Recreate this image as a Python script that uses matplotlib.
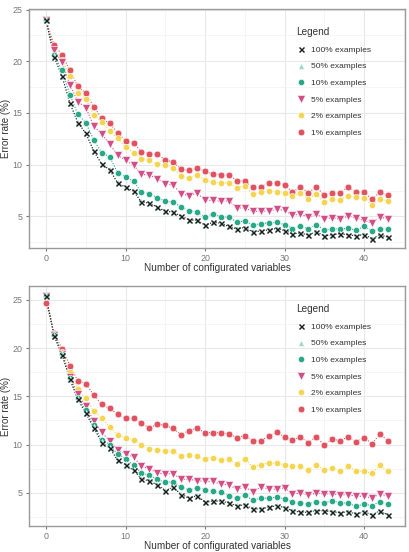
import numpy as np
import matplotlib

matplotlib.use("Agg")

import matplotlib.pyplot as plt

plt.rcParams["font.family"] = ["Liberation Sans", "DejaVu Sans"]

variables = list(range(44))
labels = ["100% examples", "50% examples", "10% examples",
          "5% examples", "2% examples", "1% examples"]

# top panel
top_100 = [23.96, 20.44, 18.56, 15.94, 14.06, 13.03, 11.31, 10.05, 9.5, 8.24,
           7.82, 7.43, 6.39, 6.29, 5.9, 5.49, 5.42, 5.0, 4.68, 4.61,
           4.16, 4.42, 4.35, 4.03, 3.8, 3.93, 3.51, 3.58, 3.7, 3.83,
           3.64, 3.32, 3.38, 3.22, 3.51, 3.12, 3.22, 3.32, 3.22, 3.12,
           3.25, 2.86, 3.19, 3.0]
top_50 = [23.96, 20.5, 18.6, 16.0, 14.1, 13.1, 11.35, 10.1, 9.55, 8.3,
          7.85, 7.5, 6.45, 6.3, 5.95, 5.55, 5.45, 5.05, 4.7, 4.65,
          4.2, 4.45, 4.4, 4.05, 3.85, 3.95, 3.55, 3.6, 3.75, 3.85,
          3.7, 3.35, 3.4, 3.25, 3.55, 3.15, 3.25, 3.35, 3.25, 3.15,
          3.3, 2.9, 3.2, 3.05]
top_10 = [23.96, 20.63, 19.11, 16.75, 14.87, 14.06, 12.38, 11.18, 10.76, 9.24,
          8.82, 8.4, 7.33, 7.2, 6.81, 6.49, 6.39, 5.9, 5.55, 5.45,
          4.94, 5.26, 4.97, 4.9, 4.48, 4.55, 4.19, 4.29, 4.39, 4.42,
          4.22, 3.83, 4.06, 3.83, 4.19, 3.7, 3.83, 3.77, 3.87, 3.67,
          4.06, 3.58, 3.83, 3.77]
top_5 = [23.96, 21.12, 19.92, 17.72, 16.1, 15.52, 13.74, 12.96, 11.99, 10.92,
         10.44, 9.95, 9.08, 8.98, 8.66, 8.17, 8.01, 7.2, 7.01, 7.27,
         6.55, 6.55, 6.46, 6.52, 5.84, 5.81, 5.49, 5.52, 5.52, 5.68,
         5.61, 5.1, 5.26, 4.9, 5.23, 4.77, 4.87, 4.74, 5.03, 4.87,
         4.61, 4.35, 4.97, 4.74]
top_2 = [23.96, 21.18, 20.15, 18.59, 16.97, 16.33, 14.81, 14.16, 13.28, 12.54,
         11.73, 11.15, 10.6, 10.44, 10.11, 9.95, 9.69, 8.92, 8.72, 9.05,
         8.5, 8.3, 8.24, 8.24, 7.78, 7.98, 7.14, 7.33, 7.43, 7.4,
         7.3, 6.94, 7.27, 6.68, 7.17, 6.36, 6.65, 6.62, 7.01, 6.84,
         6.75, 6.1, 6.72, 6.49]
top_1 = [23.96, 21.6, 20.63, 19.11, 17.56, 16.91, 15.61, 14.48, 14.0, 13.09,
         12.31, 12.12, 11.25, 11.08, 11.02, 10.44, 10.27, 9.56, 9.47, 9.66,
         9.37, 9.11, 9.05, 9.01, 8.46, 8.4, 7.85, 7.88, 8.24, 8.24,
         8.07, 7.36, 7.85, 7.3, 7.85, 7.07, 7.3, 7.27, 7.85, 7.36,
         7.36, 6.65, 7.36, 7.07]

# bottom panel
bot_100 = [25.35, 21.28, 19.31, 16.77, 14.69, 13.23, 11.74, 10.21, 9.65, 8.37,
           7.92, 7.33, 6.46, 6.22, 5.83, 5.24, 5.56, 4.83, 4.44, 4.72,
           4.03, 4.13, 4.13, 3.96, 3.65, 3.75, 3.33, 3.33, 3.51, 3.68,
           3.47, 3.16, 2.99, 2.99, 3.16, 3.13, 3.06, 2.92, 3.06, 2.78,
           3.06, 2.71, 3.13, 2.71]
bot_50 = [25.35, 21.3, 19.35, 16.8, 14.7, 13.3, 11.8, 10.3, 9.7, 8.45,
          8.0, 7.4, 6.55, 6.3, 5.9, 5.3, 5.6, 4.9, 4.5, 4.8,
          4.1, 4.2, 4.2, 4.0, 3.7, 3.8, 3.4, 3.4, 3.55, 3.7,
          3.5, 3.2, 3.05, 3.05, 3.2, 3.15, 3.1, 2.95, 3.1, 2.85,
          3.1, 2.75, 3.15, 2.75]
bot_10 = [25.35, 21.39, 19.38, 16.88, 14.79, 13.58, 12.01, 10.52, 10.0, 8.99,
          8.54, 7.85, 7.08, 6.81, 6.39, 6.11, 6.15, 5.59, 5.31, 5.52,
          5.35, 5.17, 5.07, 4.72, 4.44, 4.79, 4.24, 4.48, 4.44, 4.58,
          4.38, 4.03, 3.92, 3.89, 4.06, 3.99, 4.17, 3.99, 3.92, 3.61,
          3.85, 3.68, 4.1, 3.82]
bot_5 = [25.35, 21.39, 19.41, 17.05, 15.21, 13.99, 12.43, 11.32, 10.35, 9.41,
         9.06, 8.72, 7.74, 7.5, 7.05, 6.98, 6.98, 6.42, 6.39, 6.28,
         6.18, 6.18, 5.9, 5.83, 5.38, 5.59, 5.14, 5.59, 5.42, 5.38,
         5.52, 4.9, 4.97, 4.79, 4.97, 4.9, 4.9, 4.79, 4.83, 4.65,
         4.65, 4.48, 4.9, 4.65]
bot_2 = [25.35, 21.45, 19.58, 17.5, 15.73, 14.79, 13.47, 12.78, 11.84, 10.97,
         10.69, 10.52, 9.93, 9.58, 9.44, 9.34, 9.34, 8.82, 8.89, 8.82,
         8.54, 8.65, 8.37, 8.47, 8.02, 8.54, 7.67, 7.92, 8.09, 8.06,
         7.92, 7.74, 7.74, 7.4, 7.92, 7.33, 7.6, 7.26, 7.74, 7.26,
         7.22, 7.05, 7.85, 7.22]
bot_1 = [24.72, 21.56, 19.93, 18.19, 16.6, 16.32, 15.14, 14.17, 13.75, 13.13,
         12.71, 12.71, 12.19, 11.74, 12.12, 11.98, 11.67, 11.04, 11.46, 11.67,
         11.25, 11.25, 11.22, 11.15, 10.73, 10.94, 10.42, 10.42, 10.87, 11.28,
         10.8, 10.45, 10.8, 10.21, 10.83, 9.93, 10.56, 10.42, 10.8, 10.31,
         10.73, 10.1, 11.08, 10.42]

colors = ["#1a1a1a", "#9ed8c8", "#27a887", "#d24f86", "#f5d44f", "#e0525f"]
markers = ["x", "^", "o", "v", "o", "o"]
sizes = [3.6, 4.5, 4.5, 5.6, 4.5, 4.8]


def draw_panel(ax, series, ymin, ymax):
    for k in range(len(series) - 1, -1, -1):
        ax.plot(variables, series[k], color=colors[k], linestyle=(0, (1, 1.5)),
                linewidth=0.8, zorder=2)
    handles = []
    for k in range(len(series) - 1, -1, -1):
        if markers[k] == "x":
            h, = ax.plot(variables, series[k], linestyle="none", marker="x",
                         color=colors[k], markersize=sizes[k], markeredgewidth=1.0,
                         zorder=3 + (6 - k))
        else:
            h, = ax.plot(variables, series[k], linestyle="none", marker=markers[k],
                         markerfacecolor=colors[k], markeredgecolor="white",
                         markeredgewidth=0.4, markersize=sizes[k], zorder=3 + (6 - k))
        handles.append(h)
    handles = handles[::-1]

    ax.set_xlim(-2.15, 45.15)
    ax.set_ylim(ymin, ymax)
    ax.set_xticks([0, 10, 20, 30, 40])
    ax.set_xticks([5, 15, 25, 35, 45], minor=True)
    ax.set_yticks([5, 10, 15, 20, 25])
    ax.set_yticks([2.5, 7.5, 12.5, 17.5, 22.5], minor=True)
    ax.grid(True, which="major", color="#e8e8e8", linewidth=0.8)
    ax.grid(True, which="minor", color="#f2f2f2", linewidth=0.5)
    ax.set_axisbelow(True)
    for s in ax.spines.values():
        s.set_color("#9a9a9a")
        s.set_linewidth(1.0)
    ax.tick_params(which="major", length=2.5, color="#777777", labelsize=6.4,
                   labelcolor="#777777", pad=2)
    ax.tick_params(which="minor", length=0)
    ax.set_xlabel("Number of configurated variables", fontsize=7.2, color="#333333")
    ax.set_ylabel("Error rate (%)", fontsize=7.0, color="#333333")
    ax.yaxis.set_label_coords(-0.047, 0.5)
    ax.xaxis.set_label_coords(0.5, -0.063)
    leg = ax.legend(handles, labels, loc="upper left", bbox_to_anchor=(0.69, 0.955),
                    frameon=False, title="Legend", fontsize=6.0,
                    title_fontsize=7.2, labelspacing=1.05, handletextpad=0.6,
                    handlelength=1.2, alignment="left")
    for t in leg.get_texts():
        t.set_color("#333333")
    leg.get_title().set_color("#333333")
    return ax


fig = plt.figure(figsize=(4.1, 5.52), dpi=100)
ax1 = fig.add_axes([0.0707, 0.5507, 0.917, 0.433])
ax2 = fig.add_axes([0.0707, 0.0471, 0.917, 0.4348])

draw_panel(ax1, [top_100, top_50, top_10, top_5, top_2, top_1], 1.95, 25.05)
draw_panel(ax2, [bot_100, bot_50, bot_10, bot_5, bot_2, bot_1], 1.57, 26.43)

fig.savefig("out.png", dpi=100)
